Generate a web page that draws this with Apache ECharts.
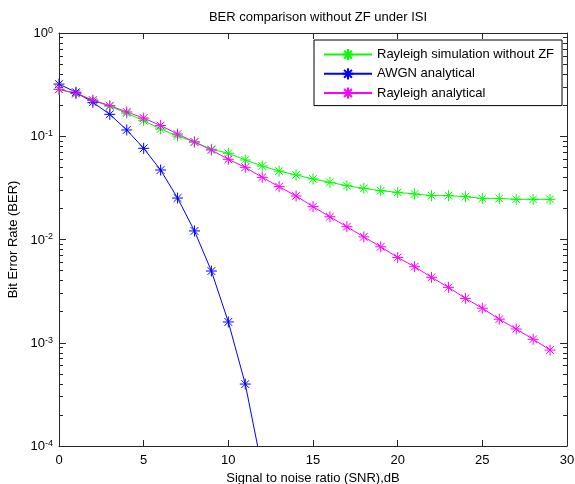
<!DOCTYPE html>
<html><head><meta charset="utf-8">
<script src="https://cdn.jsdelivr.net/npm/echarts@6/dist/echarts.min.js"></script>
<style>html,body{margin:0;padding:0;background:#fff}#c{width:575px;height:484px}</style>
</head><body><div id="c"></div>
<script>
const snr = [0,1,2,3,4,5,6,7,8,9,10,11,12,13,14,15,16,17,18,19,20,21,22,23,24,25,26,27,28,29];
const rayleighSim = [0.285,0.258,0.222,0.195,0.167,0.1415,0.1175,0.1005,0.088,0.0748,0.0684,0.0589,0.0515,0.046,0.0422,0.0386,0.0358,0.0332,0.0313,0.0297,0.0286,0.0276,0.0266,0.0266,0.026,0.025,0.025,0.0245,0.0245,0.0245];
const awgnAna = [0.32,0.267,0.213,0.163,0.115,0.0764,0.0471,0.0252,0.0121,0.00495,0.00159,0.000398,0.00006];
const rayleighAna = [0.285,0.26,0.224,0.198,0.172,0.150,0.127,0.105,0.088,0.0736,0.0598,0.05,0.04,0.0325,0.0264,0.0208,0.0166,0.0133,0.0106,0.0085,0.0067,0.00545,0.0043,0.00344,0.00269,0.00216,0.00169,0.00136,0.00108,0.00085];
const seriesNames = ['Rayleigh simulation without ZF','AWGN analytical','Rayleigh analytical'];
const xTicks = [0,5,10,15,20,25,30];
const yMajorTicks = [1e-4,1e-3,1e-2,1e-1,1];
const yMinorTicks = [2e-4,3e-4,4e-4,5e-4,6e-4,7e-4,8e-4,9e-4,
  2e-3,3e-3,4e-3,5e-3,6e-3,7e-3,8e-3,9e-3,
  2e-2,3e-2,4e-2,5e-2,6e-2,7e-2,8e-2,9e-2,
  0.2,0.3,0.4,0.5,0.6,0.7,0.8,0.9];

const FONT = 'Liberation Sans, Arial, sans-serif';
const FS = 13;
const AX = '#262626';
const star = 'path://M0,-10L0,10M-10,0L10,0M-7,-7L7,7M-7,7L7,-7';

function pairs(vals){ return vals.map((v,i)=>[snr[i], v]); }
function mkSeries(name, vals, color){
  return {
    name, type:'line', data:pairs(vals), symbol:star, symbolSize:11,
    showSymbol:true, clip:true, animation:false,
    lineStyle:{color, width:1},
    itemStyle:{color, borderColor:color, borderWidth:1}
  };
}
function supFmt(v){ return '{b|10}{s|' + Math.round(Math.log10(v)) + '}'; }

function yAx(pos, major, showLabel, extra){
  return Object.assign({
    type:'log', min:1e-4, max:1, position:pos,
    axisLine:{show:major, onZero:false, lineStyle:{color:AX, width:1}},
    axisTick:{show:true, inside:true, length: major?7:4, customValues: major?yMajorTicks:yMinorTicks, lineStyle:{color:AX}},
    axisLabel:{show:showLabel, customValues:yMajorTicks, formatter:supFmt, margin:6, color:'#000',
      rich:{ b:{fontSize:FS, fontFamily:FONT, color:'#000', verticalAlign:'bottom', lineHeight:14},
             s:{fontSize:9, fontFamily:FONT, color:'#000', verticalAlign:'top', lineHeight:14, padding:[0,0,11,0]} }},
    splitLine:{show:false}, minorTick:{show:false}
  }, extra||{});
}

const chart = echarts.init(document.getElementById('c'), null, {renderer:'canvas'});
chart.setOption({
  backgroundColor:'#fff',
  animation:false,
  title:{text:'BER comparison without ZF under ISI', left:313, top:6, textAlign:'center',
    textStyle:{fontSize:FS, fontWeight:'normal', fontFamily:FONT, color:'#000'}},
  grid:{left:59, right:8, top:33, bottom:38, containLabel:false, outerBoundsMode:'none'},
  legend:{
    orient:'vertical', left:314, top:40, padding:[8,8,6,9], itemGap:6,
    itemWidth:48, itemHeight:14, borderColor:'#000', borderWidth:1, backgroundColor:'#fff',
    textStyle:{fontSize:FS, fontFamily:FONT, color:'#000'},
    data:seriesNames
  },
  xAxis:[
    {type:'value', min:0, max:30, interval:5, position:'bottom',
     axisLine:{show:true, onZero:false, lineStyle:{color:AX}},
     axisTick:{show:true, inside:true, length:6, lineStyle:{color:AX}},
     axisLabel:{show:true, margin:8, fontSize:FS, fontFamily:FONT, color:'#000',
       customValues: xTicks},
     splitLine:{show:false},
     name:'Signal to noise ratio (SNR),dB', nameLocation:'middle', nameGap:26,
     nameTextStyle:{fontSize:FS, fontFamily:FONT, color:'#000'}},
    {type:'value', min:0, max:30, interval:5, position:'top',
     axisLine:{show:true, onZero:false, lineStyle:{color:AX}},
     axisTick:{show:true, inside:true, length:6, lineStyle:{color:AX}},
     axisLabel:{show:false}, splitLine:{show:false}}
  ],
  yAxis:[
    yAx('left', true, true, {name:'Bit Error Rate (BER)', nameLocation:'middle', nameGap:35,
      nameTextStyle:{fontSize:FS, fontFamily:FONT, color:'#000'}}),
    yAx('left', false, false),
    yAx('right', true, false),
    yAx('right', false, false)
  ],
  series:[
    mkSeries(seriesNames[0], rayleighSim, '#00ff00'),
    mkSeries(seriesNames[1], awgnAna, '#0000ff'),
    mkSeries(seriesNames[2], rayleighAna, '#ff00ff')
  ]
});
</script></body></html>
